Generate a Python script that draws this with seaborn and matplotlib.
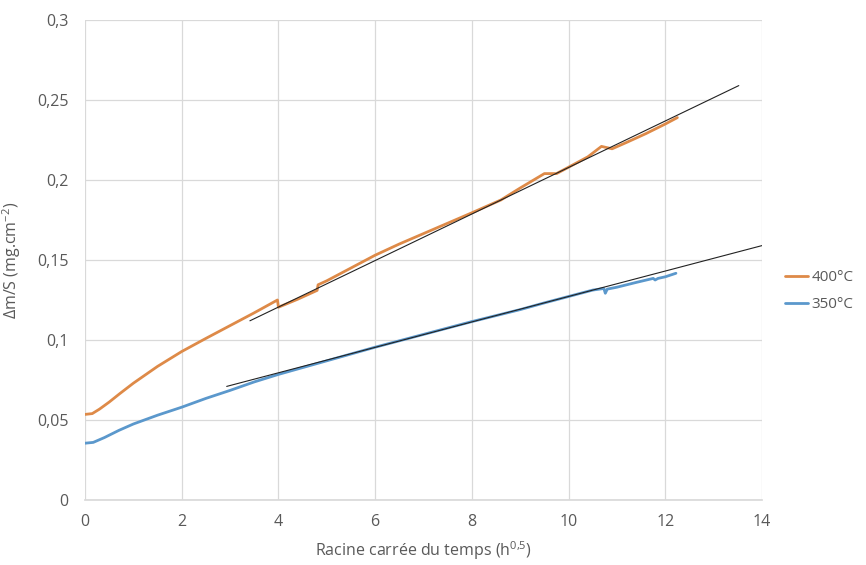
import matplotlib
matplotlib.use("Agg")
import matplotlib.pyplot as plt
import seaborn as sns
import pandas as pd
from matplotlib.ticker import FuncFormatter

# ---- data ----
x_400 = [0, 0.15, 0.3, 0.5, 0.72, 1.0, 1.5, 2.0, 2.5, 3.0, 3.5, 3.98, 4.0, 4.4, 4.8, 4.82,
         5.0, 5.5, 6.0, 6.5, 7.0, 7.5, 8.0, 8.6, 9.0, 9.5, 9.75, 10.0, 10.4, 10.68, 10.9,
         11.2, 11.6, 12.0, 12.25]
y_400 = [0.0535, 0.054, 0.0568, 0.0612, 0.0665, 0.073, 0.0835, 0.0928, 0.101, 0.109, 0.117, 0.125,
         0.1205, 0.1255, 0.131, 0.1345, 0.137, 0.145, 0.153, 0.160, 0.1665, 0.173, 0.1795,
         0.1875, 0.195, 0.204, 0.204, 0.208, 0.2145, 0.221, 0.2195, 0.2235, 0.229, 0.235, 0.239]

x_350 = [0, 0.17, 0.4, 0.7, 1.0, 1.5, 2.0, 2.5, 3.0, 3.5, 4.0, 5.0, 6.0, 7.0, 8.0, 9.0, 9.5,
         10.0, 10.5, 10.73, 10.76, 10.8, 11.0, 11.4, 11.75, 11.79, 11.85, 12.0, 12.22]
y_350 = [0.0355, 0.036, 0.039, 0.0435, 0.0475, 0.053, 0.058, 0.0635, 0.0685, 0.0738, 0.0785,
         0.087, 0.0955, 0.1035, 0.1115, 0.119, 0.1232, 0.1272, 0.1312, 0.1322, 0.1292, 0.1318,
         0.133, 0.136, 0.1385, 0.1375, 0.1385, 0.1395, 0.1417]

trend_400_x = [3.41, 13.52]
trend_400_y = [0.112, 0.259]
trend_350_x = [2.93, 14.0]
trend_350_y = [0.071, 0.159]

series_labels = ["400°C", "350°C"]
x_ticks = [0, 2, 4, 6, 8, 10, 12, 14]
y_ticks = [0, 0.05, 0.1, 0.15, 0.2, 0.25, 0.3]

# ---- style ----
sns.set_theme(style="white")
plt.rcParams['font.family'] = ['Open Sans', 'DejaVu Sans']
plt.rcParams['mathtext.default'] = 'regular'
gray = "#595959"
c_orange = "#DE8A48"
c_blue = "#5B98CC"

fig = plt.figure(figsize=(8.66, 5.65), dpi=100)
ax = fig.add_axes([85 / 866, 1 - 500 / 565, (762 - 85) / 866, (500 - 20) / 565])

df400 = pd.DataFrame({"x": x_400, "y": y_400})
df350 = pd.DataFrame({"x": x_350, "y": y_350})

sns.lineplot(data=df400, x="x", y="y", ax=ax, color=c_orange, lw=2.0, sort=False,
             label=series_labels[0], estimator=None)
sns.lineplot(data=df350, x="x", y="y", ax=ax, color=c_blue, lw=2.0, sort=False,
             label=series_labels[1], estimator=None)
sns.lineplot(x=trend_400_x, y=trend_400_y, ax=ax, color="#222222", lw=0.8, legend=False)
sns.lineplot(x=trend_350_x, y=trend_350_y, ax=ax, color="#222222", lw=0.8, legend=False)

ax.set_xlim(0, 14)
ax.set_ylim(0, 0.3)
ax.set_xticks(x_ticks)
ax.set_yticks(y_ticks)

def fmt(v, pos):
    return ("%g" % v).replace(".", ",")

ax.xaxis.set_major_formatter(FuncFormatter(fmt))
ax.yaxis.set_major_formatter(FuncFormatter(fmt))
ax.tick_params(axis="both", colors=gray, labelsize=11.5, length=0)
ax.tick_params(axis="x", pad=10)
ax.tick_params(axis="y", pad=12)
ax.grid(True, color="#D9D9D9", lw=0.9)
ax.set_axisbelow(True)
for s in ["top", "right", "left"]:
    ax.spines[s].set_visible(False)
ax.spines["bottom"].set_color("#D9D9D9")

ax.set_xlabel("Racine carrée du temps (h$^{0{,}5}$)", color=gray, fontsize=11.5, labelpad=7)
ax.set_ylabel("Δm/S (mg.cm$^{-2}$)", color=gray, fontsize=11.5, labelpad=10)

ax.get_legend().remove()
handles, labels = ax.get_legend_handles_labels()
fig.legend(handles[:2], labels[:2], loc="center left",
           bbox_to_anchor=(776 / 866, 1 - 291 / 565), frameon=False,
           fontsize=11, labelcolor=gray, handlelength=1.5, handletextpad=0.2,
           labelspacing=0.8, borderaxespad=0.2)

fig.savefig("out.png", dpi=100)
